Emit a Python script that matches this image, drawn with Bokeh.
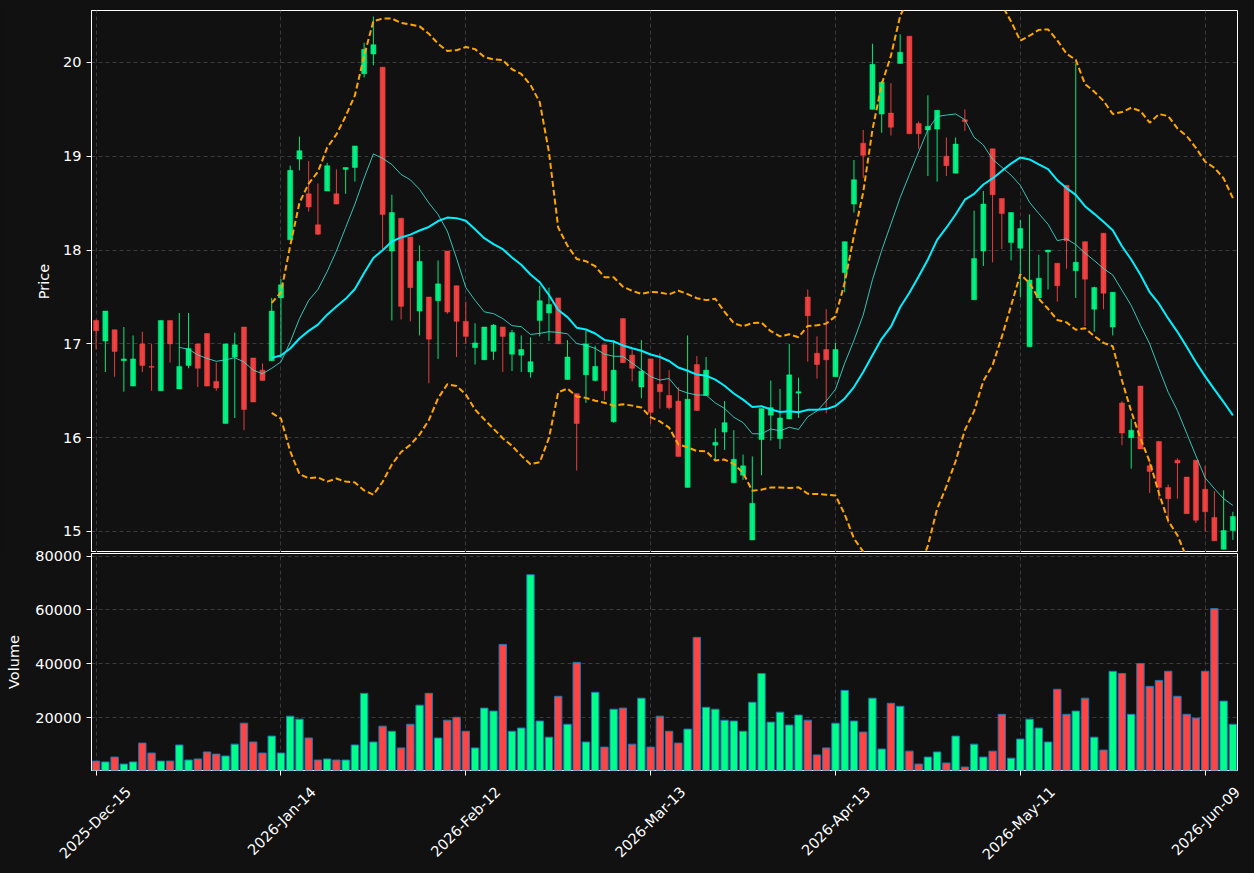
import math
import numpy as np
import pandas as pd
from bokeh.plotting import figure
from bokeh.layouts import column
from bokeh.models import (ColumnDataSource, FixedTicker, Range1d, NumeralTickFormatter,
                          LinearAxis)
from bokeh.embed import file_html
from bokeh.resources import INLINE

# ---------------- data ----------------
opens = [17.25, 17.03, 17.15, 16.82, 16.55, 17.00, 16.76, 16.50, 17.25, 16.52,
         16.77, 17.00, 17.11, 16.60, 16.15, 16.86, 17.18, 16.85, 16.72, 16.82,
         17.49, 18.11, 18.97, 18.60, 18.27, 18.63, 18.60, 18.86, 18.88, 19.88,
         20.09, 19.95, 17.99, 18.34, 18.14, 17.35, 17.50, 17.46, 17.99, 17.62,
         17.24, 16.96, 16.83, 16.92, 17.18, 16.89, 16.88, 16.70, 17.25, 17.33,
         17.49, 16.62, 16.47, 16.67, 16.61, 16.99, 16.17, 17.27, 16.88, 16.54,
         16.84, 16.57, 16.45, 16.39, 15.47, 16.78, 16.45, 15.92, 16.06, 15.52,
         15.60, 14.91, 15.98, 16.24, 15.99, 16.20, 16.475, 17.50, 16.90, 16.94,
         16.65, 17.76, 18.49, 19.14, 19.50, 19.45, 19.46, 19.99, 20.28, 19.35,
         19.28, 19.29, 19.00, 18.82, 19.39, 17.47, 17.99, 19.08, 18.55, 18.08,
         18.02, 16.97, 17.49, 17.98, 17.86, 18.69, 17.78, 18.09, 17.37, 18.18,
         17.18, 16.37, 16.00, 16.55, 15.70, 15.96, 15.47, 15.76, 15.58, 15.76,
         15.45, 15.15, 14.81, 15.01]
highs = [17.26, 17.35, 17.15, 17.18, 17.09, 17.13, 17.00, 17.25, 17.25, 17.33,
         17.33, 17.00, 17.11, 16.80, 17.00, 17.12, 17.18, 16.85, 16.79, 17.49,
         17.69, 18.90, 19.21, 18.95, 18.71, 18.93, 18.86, 18.88, 19.11, 20.21,
         20.49, 19.95, 18.59, 18.34, 18.14, 18.05, 17.50, 17.89, 17.99, 17.62,
         17.45, 17.22, 17.18, 17.21, 17.18, 17.15, 17.09, 17.07, 17.62, 17.60,
         17.49, 17.04, 16.47, 17.14, 16.98, 16.99, 17.04, 17.27, 16.94, 17.04,
         16.84, 16.90, 16.72, 16.54, 17.09, 16.87, 16.86, 16.10, 16.39, 16.08,
         15.82, 15.80, 16.31, 16.61, 16.52, 17.00, 16.64, 17.58, 17.08, 17.37,
         17.01, 18.09, 18.96, 19.28, 20.20, 19.80, 19.78, 20.30, 20.28, 19.37,
         19.65, 19.49, 19.20, 19.20, 19.50, 18.42, 18.63, 19.08, 18.55, 18.40,
         18.32, 18.38, 17.95, 18.00, 17.86, 18.69, 19.99, 18.09, 17.61, 18.18,
         17.55, 16.39, 16.20, 16.55, 15.75, 15.96, 15.50, 15.78, 15.58, 15.76,
         15.70, 15.43, 15.44, 15.21]
lows = [16.94, 16.70, 16.65, 16.49, 16.55, 16.70, 16.50, 16.50, 16.80, 16.52,
        16.74, 16.54, 16.55, 16.50, 16.15, 16.21, 16.08, 16.38, 16.61, 16.82,
        16.85, 18.11, 18.85, 18.41, 18.16, 18.63, 18.49, 18.60, 18.73, 19.84,
        19.97, 18.01, 17.25, 17.26, 17.24, 17.09, 16.58, 16.84, 17.32, 16.86,
        17.00, 16.78, 16.83, 16.83, 16.70, 16.71, 16.70, 16.64, 17.08, 17.03,
        17.00, 16.62, 15.65, 16.37, 16.60, 16.40, 16.16, 16.80, 16.60, 16.42,
        16.15, 16.31, 16.30, 15.80, 15.47, 16.29, 16.45, 15.75, 15.87, 15.52,
        15.55, 14.91, 15.60, 15.97, 15.88, 16.20, 16.21, 16.81, 16.63, 16.26,
        16.65, 17.55, 18.40, 18.77, 19.50, 19.25, 19.22, 19.99, 19.24, 19.08,
        18.79, 18.73, 18.79, 18.82, 19.27, 17.47, 17.83, 17.87, 18.01, 17.89,
        17.50, 16.97, 17.49, 17.58, 17.45, 17.80, 17.49, 17.19, 17.13, 17.37,
        17.09, 15.92, 15.67, 15.88, 15.41, 15.34, 15.09, 15.35, 15.19, 15.09,
        15.00, 14.90, 14.81, 14.91]
closes = [17.14, 17.35, 16.92, 16.84, 16.84, 16.77, 16.75, 17.25, 17.00, 16.76,
          16.95, 16.74, 16.55, 16.53, 17.00, 16.99, 16.30, 16.38, 16.61, 17.35,
          17.63, 18.85, 19.06, 18.46, 18.17, 18.90, 18.49, 18.88, 19.11, 20.14,
          20.19, 18.38, 18.40, 17.40, 17.60, 17.88, 17.05, 17.64, 17.34, 17.24,
          17.08, 17.01, 17.18, 17.20, 17.08, 17.12, 16.94, 16.81, 17.46, 17.42,
          17.00, 16.86, 16.15, 17.00, 16.76, 16.50, 16.72, 16.80, 16.74, 16.71,
          16.27, 16.49, 16.32, 15.80, 16.41, 16.29, 16.72, 15.95, 16.16, 15.77,
          15.70, 15.30, 16.31, 16.32, 16.21, 16.67, 16.49, 17.30, 16.78, 16.83,
          16.94, 18.09, 18.75, 19.01, 19.98, 19.79, 19.31, 20.11, 19.24, 19.24,
          19.32, 19.49, 18.90, 19.13, 19.37, 17.91, 18.49, 18.59, 18.39, 18.40,
          18.23, 17.68, 17.70, 18.00, 17.62, 18.10, 17.87, 17.69, 17.60, 17.54,
          17.55, 16.05, 16.08, 15.88, 15.64, 15.47, 15.35, 15.73, 15.19, 15.12,
          15.21, 14.90, 15.01, 15.16]
volumes = [3800, 3500, 5300, 2700, 3500, 10500, 6800, 3800, 3800, 9800,
           4200, 4600, 7200, 6400, 5700, 10100, 17900, 10900, 6800, 13100,
           6800, 20500, 19400, 12400, 4200, 4600, 4200, 4200, 9800, 29000,
           10900, 16800, 14900, 8700, 17500, 24600, 29000, 12400, 19000, 20100,
           14900, 8700, 23500, 22400, 47200, 14900, 16100, 73100, 18700, 12700,
           27900, 17500, 40500, 10900, 29400, 9000, 23100, 23500, 10100, 27200,
           9000, 20500, 14900, 10500, 15700, 49800, 23800, 23100, 19000, 18700,
           14900, 25700, 36400, 18300, 22000, 17200, 20900, 19000, 6100, 8700,
           17900, 30100, 18700, 14600, 27200, 8300, 25300, 24200, 7500, 2700,
           5300, 7200, 3100, 13100, 1600, 10100, 5300, 7500, 21200, 4900,
           12000, 19400, 16100, 10900, 30500, 21200, 22400, 27200, 12700, 7900,
           37200, 36400, 21200, 40100, 31600, 33800, 37200, 27900, 21200, 19800,
           37200, 60500, 26100, 17500]

tick_positions = [0, 20, 40, 60, 80, 100, 120]
tick_labels = ["2025-Dec-15", "2026-Jan-14", "2026-Feb-12", "2026-Mar-13",
               "2026-Apr-13", "2026-May-11", "2026-Jun-09"]
price_ticks = [15, 16, 17, 18, 19, 20]
volume_ticks = [20000, 40000, 60000, 80000]

# ---------------- derived series ----------------
n = len(closes)
idx = list(range(n))
o = np.array(opens); c = np.array(closes)
up = c >= o
cs = pd.Series(closes)
ma10 = cs.rolling(10).mean()
ma20 = cs.rolling(20).mean()
sd20 = cs.rolling(20).std()
bb_up = ma20 + 2 * sd20
bb_lo = ma20 - 2 * sd20

UP, DN = "#00FF88", "#FF4444"
BG = "#111111"
GRID = "#3a3a3a"
FONT = "DejaVu Sans"
FS = "14.5px"

src = ColumnDataSource(dict(
    x=idx, open=opens, high=highs, low=lows, close=closes,
    top=np.maximum(o, c), bottom=np.minimum(o, c),
    color=[UP if u else DN for u in up],
    vol=volumes,
))
lines = ColumnDataSource(dict(x=idx, ma10=ma10, ma20=ma20, up=bb_up, lo=bb_lo))

W, LEFT, RIGHT = 1254, 91, 17
x_range = Range1d(-0.5, 123.5)


def style(p):
    p.background_fill_color = BG
    p.border_fill_color = BG
    p.outline_line_color = "white"
    p.outline_line_width = 1
    p.outline_line_alpha = 1
    for g in (p.xgrid, p.ygrid):
        g.grid_line_color = GRID
        g.grid_line_dash = "4 3"
        g.grid_line_width = 1
    for ax in p.axis:
        ax.axis_line_color = "white"
        ax.major_tick_line_color = "white"
        ax.major_tick_out = 5
        ax.major_tick_in = 0
        ax.minor_tick_line_color = None
        ax.major_label_text_color = "white"
        ax.major_label_text_font = FONT
        ax.major_label_text_font_size = FS
        ax.major_label_standoff = 5
        ax.axis_label_text_color = "white"
        ax.axis_label_text_font = FONT
        ax.axis_label_text_font_size = FS
        ax.axis_label_text_font_style = "normal"
        ax.axis_label_standoff = 10


# ---------------- price pane ----------------
p = figure(width=W, height=552, x_range=x_range, y_range=Range1d(14.776, 20.554),
           output_backend="svg", toolbar_location=None,
           min_border_left=LEFT, min_border_right=RIGHT, min_border_top=10, min_border_bottom=0)
style(p)
p.xaxis.visible = False
p.xgrid.ticker = FixedTicker(ticks=tick_positions)
p.yaxis.ticker = FixedTicker(ticks=price_ticks)
p.ygrid.ticker = FixedTicker(ticks=price_ticks)
p.yaxis.axis_label = "Price"
p.yaxis.axis_label_standoff = 8

p.segment(x0="x", y0="low", x1="x", y1="high", source=src, line_color="color",
          line_width=1, line_alpha=0.9)
p.vbar(x="x", top="top", bottom="bottom", width=0.55, source=src, fill_color="color",
       line_color="color", fill_alpha=0.9, line_alpha=0.9, line_width=0.5)

p.line("x", "up", source=lines, line_color="orange", line_width=2, line_dash="6 3")
p.line("x", "lo", source=lines, line_color="orange", line_width=2, line_dash="6 3")
p.line("x", "ma10", source=lines, line_color="#40E0D0", line_width=1, line_alpha=0.85)
p.line("x", "ma20", source=lines, line_color="#00F0FF", line_width=2)

# ---------------- volume pane (overlaps the price canvas by 8px so "80000" fits) ----------------
OVER = 8
BOTTOM = 103
v = figure(width=W, height=OVER + 1 + 217 + BOTTOM, x_range=x_range,
           y_range=Range1d(300, 81000), output_backend="svg", toolbar_location=None,
           min_border_left=LEFT, min_border_right=RIGHT, min_border_top=OVER + 1,
           min_border_bottom=BOTTOM)
style(v)
v.border_fill_alpha = 0
v.margin = (-OVER, 0, 0, 0)
v.xaxis.visible = False
v.xgrid.ticker = FixedTicker(ticks=tick_positions)
v.yaxis.ticker = FixedTicker(ticks=volume_ticks)
v.ygrid.ticker = FixedTicker(ticks=volume_ticks)
v.yaxis.formatter = NumeralTickFormatter(format="0")
v.yaxis.axis_label = "Volume"

v.vbar(x="x", top="vol", bottom=0, width=0.8, source=src, fill_color="color",
       line_color="#1f77b4", line_width=1)

# date axis: labels on a range offset so each rotated label is centred on its tick;
# the tick marks themselves are drawn as minor ticks at the true positions
SHIFT = 3.49
v.extra_x_ranges = {"lbl": Range1d(x_range.start - SHIFT, x_range.end - SHIFT)}
date_axis = LinearAxis(x_range_name="lbl",
                       ticker=FixedTicker(ticks=tick_positions,
                                          minor_ticks=[t - SHIFT for t in tick_positions]),
                       major_label_overrides=dict(zip(tick_positions, tick_labels)),
                       major_label_orientation=math.pi / 4,
                       major_tick_line_color=None, major_tick_out=0, major_tick_in=0,
                       minor_tick_line_color="white", minor_tick_out=5, minor_tick_in=0,
                       axis_line_color=None,
                       major_label_standoff=14, major_label_text_color="white",
                       major_label_text_font=FONT, major_label_text_font_size=FS)
v.add_layout(date_axis, "below")

layout = column(p, v, spacing=0, styles={"background-color": BG})
open("out.html", "w").write(file_html(layout, INLINE))
